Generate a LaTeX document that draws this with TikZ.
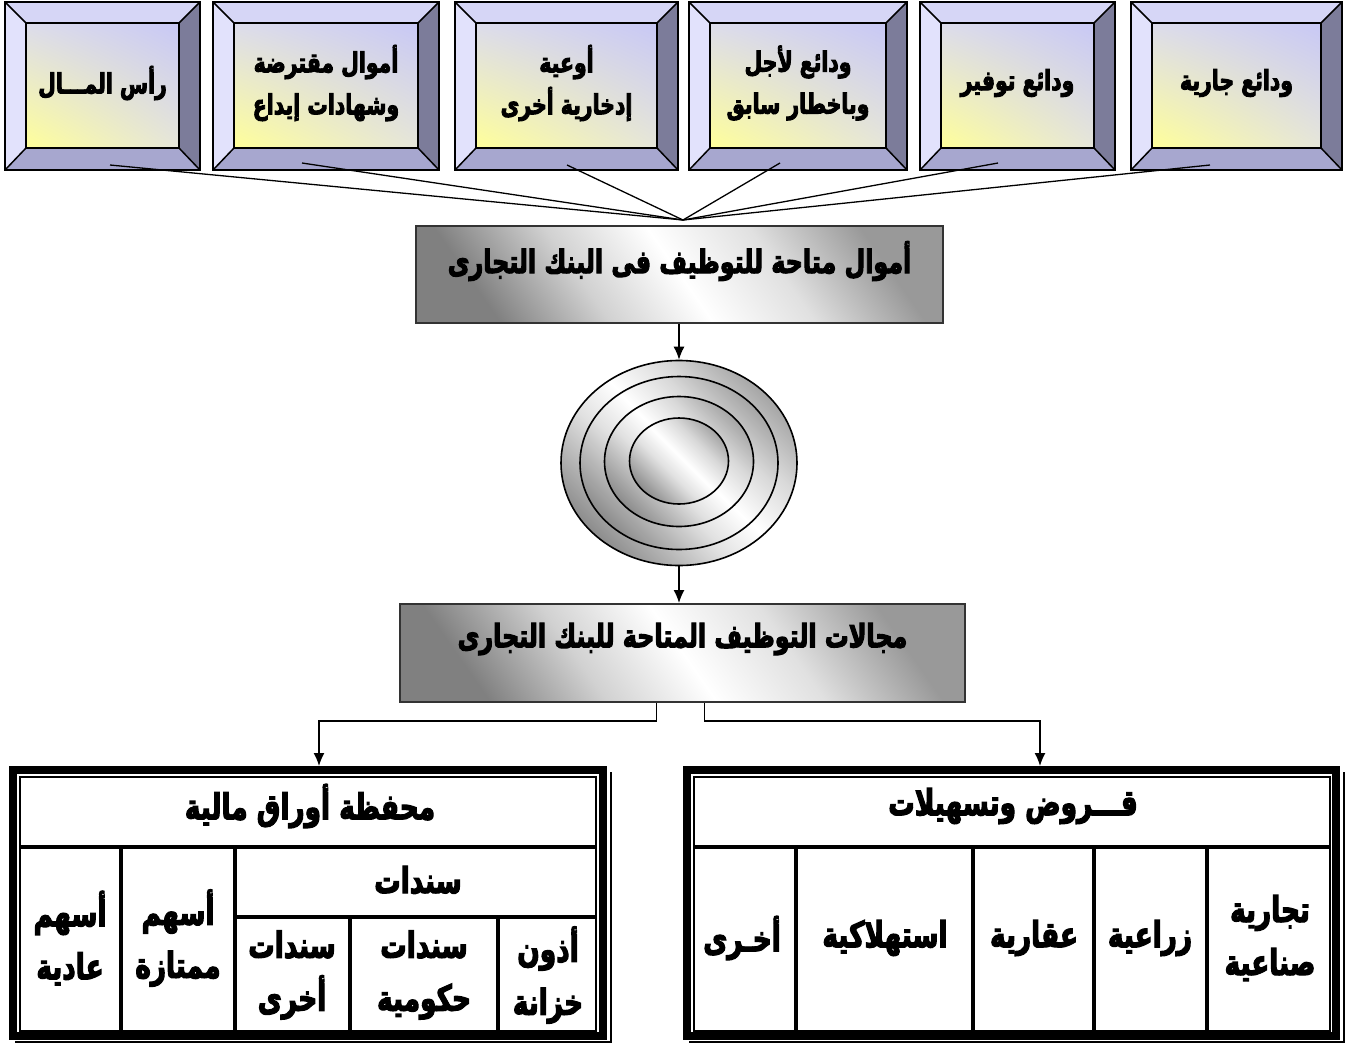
\documentclass[tikz,border=0pt]{standalone}
\usepackage{fontspec}
\newfontfamily\arabicfont[Script=Arabic, FakeStretch=0.85, BoldFeatures={FakeBold=3.5}]{DejaVu Sans}
\TeXXeTstate=1
\usetikzlibrary{arrows.meta,shapes.geometric,shadings}
\newcommand\rl[1]{\scalebox{1}[1.15]{\beginR #1\endR}}
\definecolor{bvtop}{HTML}{D6D6F6}
\definecolor{bvleft}{HTML}{E2E2FC}
\definecolor{bvright}{HTML}{7C7C9A}
\definecolor{bvbot}{HTML}{A7A7CF}
\definecolor{fcll}{HTML}{FFFF99}
\definecolor{fcur}{HTML}{C8C8F5}
\definecolor{fcul}{HTML}{DCDCEC}
\definecolor{fclr}{HTML}{E6E6DA}
\pgfdeclarehorizontalshading{metal}{100bp}{color(0bp)=(black!50); color(25bp)=(black!50); color(38bp)=(black!18); color(50bp)=(white); color(62bp)=(black!12); color(75bp)=(black!40); color(100bp)=(black!40)}
\pgfdeclarehorizontalshading{chrome}{100bp}{color(0bp)=(black!45); color(25bp)=(black!45); color(42bp)=(black!12); color(52bp)=(white); color(64bp)=(black!15); color(75bp)=(black!35); color(100bp)=(black!35)}
\tikzset{
  toplbl/.style={font=\arabicfont\bfseries\fontsize{24}{42}\selectfont, align=center, inner sep=0pt},
  midlbl/.style={font=\arabicfont\bfseries\fontsize{28}{40}\selectfont, inner sep=0pt},
  cell/.style={font=\arabicfont\bfseries\fontsize{31}{53}\selectfont, align=center, inner sep=0pt},
  midbox/.style={draw=black!80, line width=2pt, shade, shading=metal, shading angle=35, inner sep=0pt},
  ring/.style={draw=black, line width=1.6pt, shade, shading=chrome, shading angle=45},
  feed/.style={draw=black, line width=1.3pt},
  arr/.style={draw=black, line width=1.4pt, -{Latex[length=13pt,width=11pt]}},
  frame/.style={draw=black, line width=8pt, inner sep=0pt, fill=white},
  grid/.style={draw=black, line width=3.5pt},
}
\newcommand\bevbox[6]{%
  \fill[bvtop] (#2,#3) -- (#4,#3) -- ({#4-21},{#3+21}) -- ({#2+21},{#3+21}) -- cycle;
  \fill[bvbot] (#2,#5) -- (#4,#5) -- ({#4-21},{#5-22}) -- ({#2+21},{#5-22}) -- cycle;
  \fill[bvleft] (#2,#3) -- ({#2+21},{#3+21}) -- ({#2+21},{#5-22}) -- (#2,#5) -- cycle;
  \fill[bvright] (#4,#3) -- ({#4-21},{#3+21}) -- ({#4-21},{#5-22}) -- (#4,#5) -- cycle;
  \shade[lower left=fcll, upper right=fcur, upper left=fcul, lower right=fclr] ({#2+21},{#3+21}) rectangle ({#4-21},{#5-22});
  \draw[line width=1.5pt] (#2,#3) rectangle (#4,#5);
  \draw[line width=1.5pt] ({#2+21},{#3+21}) rectangle ({#4-21},{#5-22});
  \draw[line width=1.5pt] (#2,#3) -- ({#2+21},{#3+21}) (#4,#3) -- ({#4-21},{#3+21})
     (#2,#5) -- ({#2+21},{#5-22}) (#4,#5) -- ({#4-21},{#5-22});
  \node[toplbl] (#1) at ({(#2+#4)/2},{#3+81}) {#6};
}
\begin{document}
\begin{tikzpicture}[x=1pt,y=-1pt]
\useasboundingbox (0,0) rectangle (1348,1045);
\fill[white] (0,0) rectangle (1348,1045);

% top source boxes
\bevbox{b1}{5}{2}{200}{170}{\rl{رأس المـــال}}
\bevbox{b2}{213}{2}{439}{170}{\rl{أموال مقترضة}\\\rl{وشهادات إيداع}}
\bevbox{b3}{455}{2}{678}{170}{\rl{أوعية}\\\rl{إدخارية أخرى}}
\bevbox{b4}{689}{2}{907}{170}{\rl{ودائع لأجل}\\\rl{وباخطار سابق}}
\bevbox{b5}{920}{2}{1115}{170}{\rl{ودائع توفير}}
\bevbox{b6}{1131}{2}{1342}{170}{\rl{ودائع جارية}}

\coordinate (hub) at (683,220);
\coordinate (b1s) at (110,165);
\coordinate (b2s) at (302,163);
\coordinate (b3s) at (567,165);
\coordinate (b4s) at (780,163);
\coordinate (b5s) at (998,163);
\coordinate (b6s) at (1210,165);
\foreach \s in {b1s,b2s,b3s,b4s,b5s,b6s} \draw[feed] (\s) -- (hub);

% funds box
\node[midbox, minimum width=527pt, minimum height=97pt] (fund) at (679.5,274.5) {};
\node[midlbl] (fundt) at (679.5,261) {\rl{أموال متاحة للتوظيف فى البنك التجارى}};

% rings
\node[ellipse, ring, minimum width=236pt, minimum height=205pt, inner sep=0pt] (disc) at (679,463) {};
\path[ring] (679,463) ellipse [x radius=99, y radius=86.5];
\path[ring] (679,461.5) ellipse [x radius=74.5, y radius=65];
\path[ring] (679,461) ellipse [x radius=49.5, y radius=43];

% fields box
\node[midbox, minimum width=565pt, minimum height=98pt] (opts) at (682.5,653) {};
\node[midlbl] (optst) at (682.5,639) {\rl{مجالات التوظيف المتاحة للبنك التجارى}};

\draw[arr] (disc.north |- fund.south) -- (disc.north);
\draw[arr] (disc.south) -- (disc.south |- opts.north);

% tables
\draw[line width=1.5pt] (611,772) -- (611,1042) -- (15,1042);
\node[frame, minimum width=590pt, minimum height=266pt] (ltab) at (308,903) {};
\draw[line width=2pt] (20,777) rectangle (596,1031);

\draw[line width=1.5pt] (1344,772) -- (1344,1042) -- (689,1042);
\node[frame, minimum width=649pt, minimum height=266pt] (rtab) at (1011.5,903) {};
\draw[line width=2pt] (694,777) rectangle (1330,1031);

\draw[arr] ([xshift=-26pt]opts.south) -- ++(0,18) -| ([xshift=11pt]ltab.north);
\draw[arr] ([xshift=22pt]opts.south) -- ++(0,18) -| ([xshift=28.5pt]rtab.north);

% left table grid
\draw[grid] (20,847) -- (596,847);
\draw[grid] (121,847) -- (121,1031);
\draw[grid] (235,847) -- (235,1031);
\draw[grid] (235,917) -- (596,917);
\draw[grid] (350,917) -- (350,1031);
\draw[grid] (498,917) -- (498,1031);

\node[cell] (lhead) at (310,806) {\rl{محفظة أوراق مالية}};
\node[cell] (lc1) at (70,938) {\rl{أسهم}\\\rl{عادية}};
\node[cell] (lc2) at (178,938) {\rl{أسهم}\\\rl{ممتازة}};
\node[cell] (lc3) at (418,880) {\rl{سندات}};
\node[cell] (lc4) at (292,975) {\rl{سندات}\\\rl{أخرى}};
\node[cell] (lc5) at (424,975) {\rl{سندات}\\\rl{حكومية}};
\node[cell] (lc6) at (548,975) {\rl{أذون}\\\rl{خزانة}};

% right table grid
\draw[grid] (694,847) -- (1330,847);
\draw[grid] (796,847) -- (796,1031);
\draw[grid] (973,847) -- (973,1031);
\draw[grid] (1094,847) -- (1094,1031);
\draw[grid] (1207,847) -- (1207,1031);

\node[cell] (rhead) at (1013,806) {\rl{قـــروض وتسهيلات}};
\node[cell] (rc1) at (742,938) {\rl{أخـرى}};
\node[cell] (rc2) at (885,938) {\rl{استهلاكية}};
\node[cell] (rc3) at (1034,938) {\rl{عقارية}};
\node[cell] (rc4) at (1150,938) {\rl{زراعية}};
\node[cell] (rc5) at (1270,938) {\rl{تجارية}\\\rl{صناعية}};
\end{tikzpicture}
\end{document}
